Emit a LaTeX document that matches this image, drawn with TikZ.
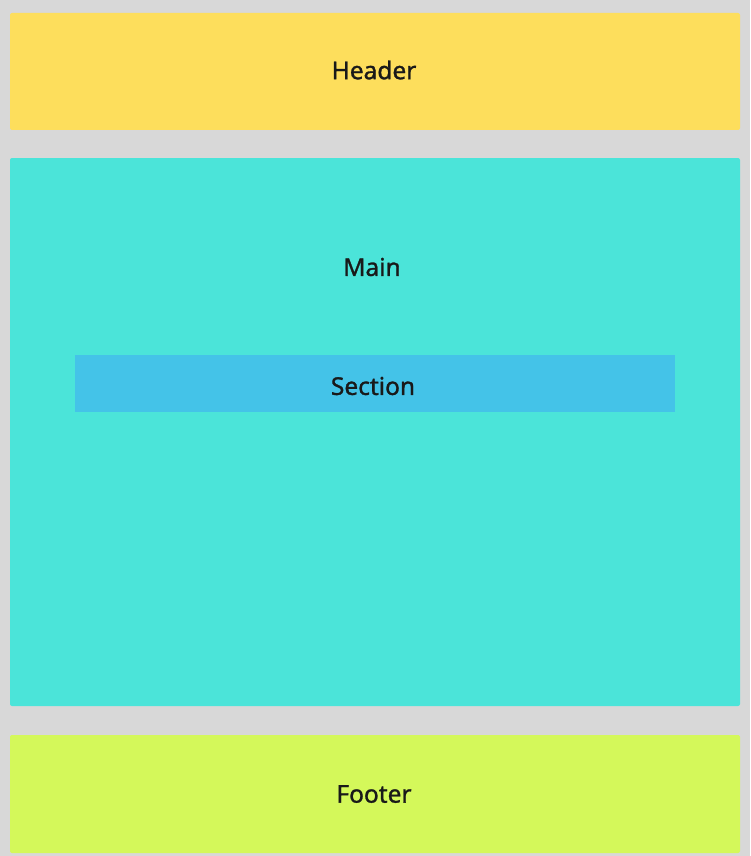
\documentclass[tikz,border=0pt]{standalone}
\usepackage{fontspec}
\setmainfont{Noto Sans}[FakeBold=1.2]
\definecolor{bg}{HTML}{D8D8D8}
\definecolor{hdr}{HTML}{FDDE5C}
\definecolor{mn}{HTML}{4BE4D9}
\definecolor{sec}{HTML}{44C3E8}
\definecolor{ftr}{HTML}{D4F85A}
\begin{document}
\begin{tikzpicture}[x=1pt,y=-1pt,
  box/.style={rounded corners=2pt, inner sep=0pt},
  lbl/.style={font=\fontsize{24.5}{28}\selectfont, text=black!90, inner sep=0pt}]
\fill[bg] (0,0) rectangle (750,856);
\useasboundingbox (0,0) rectangle (750,856);
\fill[hdr, box] (10,13) rectangle (740,130);
\fill[mn, box] (10,158) rectangle (740,706);
\fill[sec] (75,355) rectangle (675,412);
\fill[ftr, box] (10,735) rectangle (740,853);
\node[lbl] (header) at (374,70) {Header};
\node[lbl] (main) at (372,267) {Main};
\node[lbl] (section) at (373,386) {Section};
\node[lbl] (footer) at (374,794) {Footer};
\end{tikzpicture}
\end{document}
